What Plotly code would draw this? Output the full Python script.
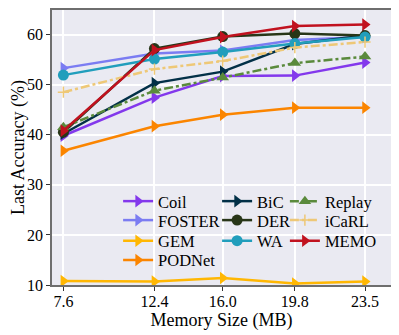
import plotly.graph_objects as go

memory = [7.6, 12.4, 16.0, 19.8, 23.5]
x_ticks = ["7.6", "12.4", "16.0", "19.8", "23.5"]
y_ticks = [10, 20, 30, 40, 50, 60]

coil = [39.8, 47.4, 51.7, 51.8, 54.4]
foster = [53.3, 56.2, 56.8, 58.9, 59.5]
gem = [10.8, 10.7, 11.4, 10.3, 10.7]
podnet = [36.8, 41.7, 44.0, 45.4, 45.4]
bic = [40.2, 50.3, 52.6, 58.1, 59.8]
der = [40.5, 57.2, 59.6, 60.2, 59.8]
wa = [51.9, 55.1, 56.5, 58.2, 59.5]
replay = [41.5, 48.8, 51.4, 54.3, 55.6]
icarl = [48.5, 53.1, 54.7, 57.4, 58.5]
memo = [40.8, 56.9, 59.5, 61.7, 62.0]

# legend grid: (column, row)
series = [
    ("Coil", coil, "#8338ec", "triangle-right", "solid", 0, 0),
    ("FOSTER", foster, "#7b7cf2", "triangle-right", "solid", 0, 1),
    ("GEM", gem, "#ffb703", "triangle-right", "solid", 0, 2),
    ("PODNet", podnet, "#fb8500", "triangle-right", "solid", 0, 3),
    ("BiC", bic, "#023047", "triangle-right", "solid", 1, 0),
    ("DER", der, "#283618", "circle", "solid", 1, 1),
    ("WA", wa, "#219ebc", "circle", "solid", 1, 2),
    ("Replay", replay, "#5a8a3c", "triangle-up", "dashdot", 2, 0),
    ("iCaRL", icarl, "#eec877", "cross-thin", "dashdot", 2, 1),
    ("MEMO", memo, "#c1121f", "triangle-right", "solid", 2, 2),
]

col_x = [0.195, 0.487, 0.687]
row_y = [0.304, 0.235, 0.160, 0.090]

font_family = "Liberation Serif, Times New Roman, serif"

fig = go.Figure()
legends = {}
for i, (name, vals, color, sym, dash, c, r) in enumerate(series):
    key = "legend" if i == 0 else f"legend{i + 1}"
    mk = dict(symbol=sym, size=11, color=color)
    if sym == "cross-thin":
        mk = dict(symbol=sym, size=8, color=color, line=dict(color=color, width=1.5))
    fig.add_trace(go.Scatter(
        x=memory, y=vals, name=name, mode="lines+markers",
        line=dict(color=color, width=2.5, dash=dash),
        marker=mk, legend=key,
    ))
    legends[key] = dict(
        x=col_x[c], y=row_y[r], xanchor="left", yanchor="middle",
        bgcolor="rgba(0,0,0,0)", borderwidth=0, itemwidth=30,
        font=dict(family=font_family, size=16.5, color="#000"),
    )

fig.update_layout(
    width=391, height=327,
    margin=dict(l=44, r=8, t=0, b=50),
    paper_bgcolor="white",
    plot_bgcolor="#eaeaf2",
    font=dict(family=font_family, size=16, color="#000"),
    showlegend=True,
    **legends,
)
fig.update_xaxes(
    range=[7.0, 24.87], tickvals=memory, ticktext=x_ticks,
    showgrid=True, gridcolor="white", gridwidth=1.5, zeroline=False,
    showline=True, linecolor="#6e6e6e", linewidth=1.5, mirror=True,
    ticks="outside", ticklen=4, tickcolor="#333",
    title=dict(text="Memory Size (MB)", font=dict(size=18), standoff=0),
    tickfont=dict(size=16), ticklabelstandoff=-3,
)
fig.update_yaxes(
    range=[10, 64.9], tickvals=y_ticks,
    showgrid=True, gridcolor="white", gridwidth=1.5, zeroline=False,
    showline=True, linecolor="#6e6e6e", linewidth=1.5, mirror=True,
    ticks="outside", ticklen=4, tickcolor="#333",
    title=dict(text="Last Accuracy (%)", font=dict(size=18), standoff=6),
    tickfont=dict(size=16),
)

fig.write_html("out.html")
